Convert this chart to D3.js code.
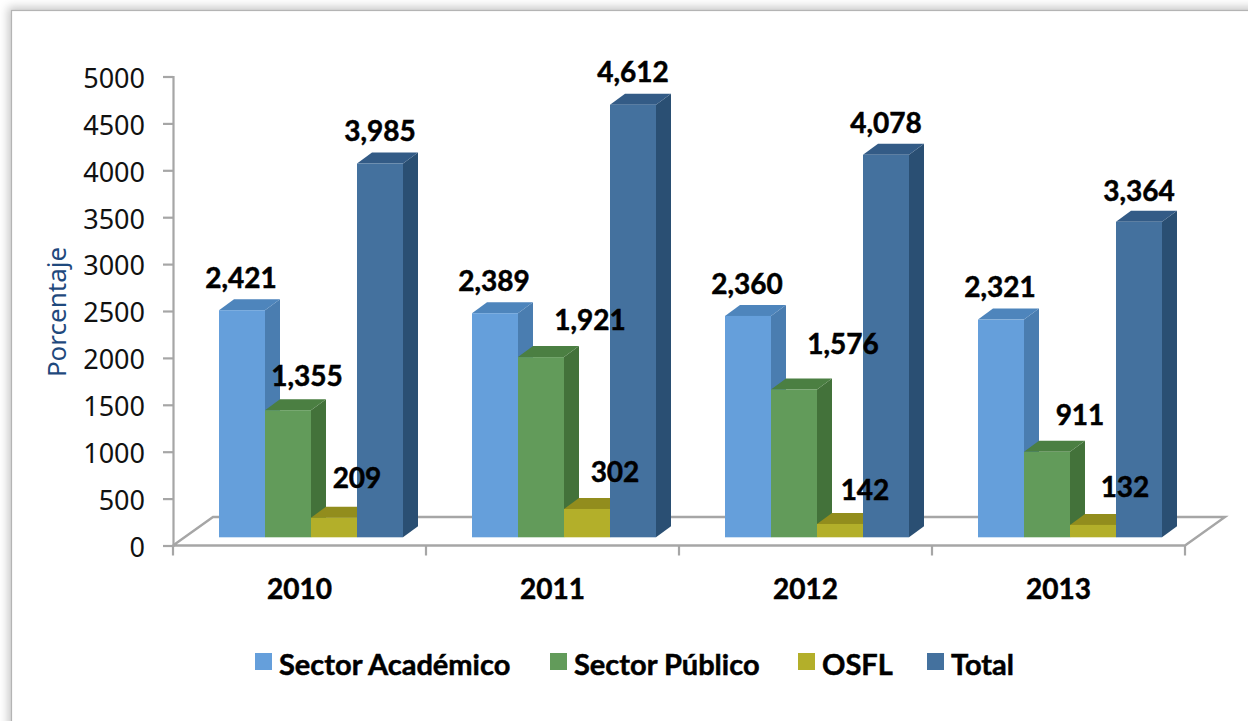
<!DOCTYPE html>
<html><head><meta charset="utf-8">
<script src="https://cdn.jsdelivr.net/npm/d3@7"></script>
<style>html,body{margin:0;padding:0;background:#fff;overflow:hidden}svg{display:block}</style>
</head><body><svg id="c" width="1248" height="721"></svg>
<script>
const years = ["2010","2011","2012","2013"];
const seriesNames = ["Sector Académico","Sector Público","OSFL","Total"];
const academico = [2421,2389,2360,2321];
const publico = [1355,1921,1576,911];
const osfl = [209,302,142,132];
const total = [3985,4612,4078,3364];
const yTicks = [0,500,1000,1500,2000,2500,3000,3500,4000,4500,5000];
const colFront = ["#659FDB","#629B5A","#B3AF2A","#44719E"];
const colTop   = ["#4E85BC","#4B7F42","#928D1D","#335B86"];
const colSide  = ["#4A7DB0","#43723A","#857F18","#2A4F73"];
// label nudges (dx,dy from the bar's front-top centre), one list per series
const nudgeAc = [[-1,-32],[-1,-32],[-1,-32],[-1,-32]];
const nudgePu = [[19,-34],[49,-37],[49,-45],[33,-37]];
const nudgeOs = [[23,-39],[28,-37],[25,-34],[32,-38]];
const nudgeTo = [[0,-32],[0,-32],[0,-32],[0,-31]];

const values = [academico,publico,osfl,total];
const nudges = [nudgeAc,nudgePu,nudgeOs,nudgeTo];
const svg = d3.select("#c");
const depthX = 15, depthY = -11, floorDX = 40, floorDY = -28.5;
const axisY = d3.scaleLinear().domain([0,5000]).range([545.5,76.5]);
const barY = v => axisY(v) - 8.2;
const x0 = d3.scaleBand().domain(years).range([173,1185]);
const x1 = d3.scaleBand().domain(seriesNames).range([46,230]);
const axisColor = "#a6a6a6";
const sans = "'Noto Sans','Open Sans',sans-serif";
const bold = "'Lato','Open Sans',sans-serif";
const heavy = sel => sel.attr("font-family",bold).attr("font-weight",700).attr("stroke","#000").attr("stroke-width",0.5);

// page + frame
const defs = svg.append("defs");
defs.append("filter").attr("id","sh").attr("x","-5%").attr("y","-5%").attr("width","110%").attr("height","110%")
  .append("feGaussianBlur").attr("stdDeviation",5);
svg.append("rect").attr("width",1248).attr("height",721).attr("fill","#fff");
svg.append("rect").attr("x",8).attr("y",7).attr("width",1300).attr("height",800).attr("fill","#000").attr("opacity",.22).attr("filter","url(#sh)");
svg.append("rect").attr("x",11.5).attr("y",10.5).attr("width",1300).attr("height",800).attr("fill","#fff").attr("stroke","#b4b4b4").attr("stroke-width",1.2);

// floor
const [fl,fr] = x0.range(), fy = axisY(0);
svg.append("path").attr("fill","none").attr("stroke",axisColor).attr("stroke-width",2.4)
  .attr("d",d3.line()([[fl,fy],[fl+floorDX,fy+floorDY],[fr+floorDX,fy+floorDY],[fr,fy],[fl,fy]]));

// axes
const yAxis = d3.axisLeft(axisY).tickValues(yTicks).tickSize(10).tickPadding(18).tickFormat(d3.format("d"));
const gy = svg.append("g").attr("transform",`translate(${fl},0)`).call(yAxis);
gy.selectAll("path,line").attr("stroke",axisColor).attr("stroke-width",2.2);
gy.selectAll("text").attr("font-family",sans).attr("font-size",27).attr("fill","#111").attr("dy","0.40em");
const gx = svg.append("g").attr("transform",`translate(0,${fy})`);
gx.selectAll("line").data([...years.map(y=>x0(y)),fr]).join("line")
  .attr("x1",d=>d).attr("x2",d=>d).attr("y1",0).attr("y2",10).attr("stroke",axisColor).attr("stroke-width",2.2);
gx.selectAll("text").data(years).join("text")
  .attr("x",d=>x0(d)+x0.bandwidth()/2).attr("y",53).attr("text-anchor","middle")
  .call(heavy).attr("font-size",28).attr("fill","#000").text(d=>d);

// y title
svg.append("text").attr("transform","translate(66,312) rotate(-90)").attr("text-anchor","middle")
  .attr("font-family",sans).attr("font-size",26).attr("fill","#1F497D").text("Porcentaje");

// bars
const base = barY(0), w = x1.bandwidth();
const marks = svg.append("g");
years.forEach((yr,i)=>{
  seriesNames.forEach((s,j)=>{
    const x = x0(yr)+x1(s), t = barY(values[j][i]);
    const g = marks.append("g");
    g.append("path").attr("fill",colSide[j]).attr("d",d3.line()([[x+w,t],[x+w+depthX,t+depthY],[x+w+depthX,base+depthY],[x+w,base]])+"Z");
    g.append("path").attr("fill",colTop[j]).attr("d",d3.line()([[x,t],[x+depthX,t+depthY],[x+w+depthX,t+depthY],[x+w,t]])+"Z");
    g.append("rect").attr("x",x).attr("y",t).attr("width",w).attr("height",base-t).attr("fill",colFront[j]);
  });
});
// labels
const fmt = d3.format(",");
years.forEach((yr,i)=>{
  seriesNames.forEach((s,j)=>{
    svg.append("text").attr("x",x0(yr)+x1(s)+w/2+nudges[j][i][0]).attr("y",barY(values[j][i])+nudges[j][i][1])
      .attr("dy","0.35em").attr("text-anchor","middle").call(heavy)
      .attr("font-size",28).attr("fill","#000").text(fmt(values[j][i]));
  });
});
// legend
const legX = d3.scaleOrdinal().domain(seriesNames).range([255,550,798,927]);
const lg = svg.selectAll(".lg").data(seriesNames).join("g").attr("transform",d=>`translate(${legX(d)},0)`);
lg.append("rect").attr("x",0).attr("y",653).attr("width",17).attr("height",17).attr("fill",(d,i)=>colFront[i]);
lg.append("text").attr("x",24).attr("y",675).call(heavy).attr("font-size",29).attr("fill","#000").text(d=>d);
</script></body></html>
